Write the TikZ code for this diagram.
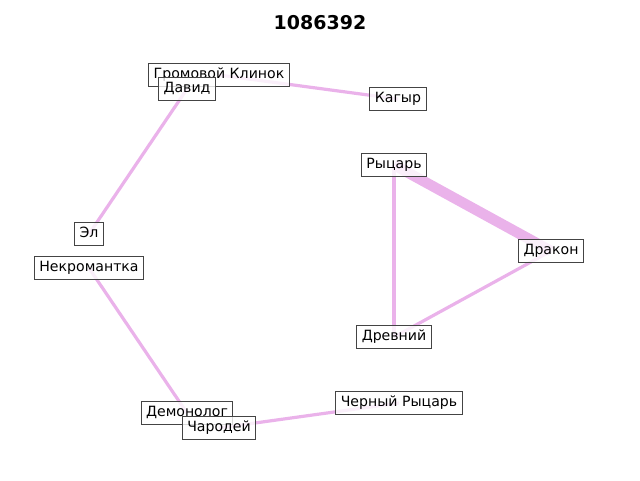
\documentclass[tikz,border=0pt]{standalone}
\usepackage{fontspec}
\setmainfont{DejaVu Sans}
\usetikzlibrary{backgrounds}
\definecolor{edgeviolet}{RGB}{234,178,234}
\definecolor{boxgray}{RGB}{68,68,68}
\tikzset{
	person/.style={draw=boxgray, line width=1.1pt, fill=white, fill opacity=0.8, text opacity=1,
		inner xsep=5pt, inner ysep=4.6pt, text height=10.8pt, text depth=3.3pt,
		font=\fontsize{14.1}{16}\selectfont},
	link/.style={draw=edgeviolet, line width=3.2pt},
	biglink/.style={draw=edgeviolet, line width=10.5pt}
}

\begin{document}
\begin{tikzpicture}[x=1pt, y=-1pt]
		%%%%% START %%%%%
		
		\useasboundingbox (0, 0) rectangle (640, 480);
		
		\node[font=\fontsize{19}{22}\selectfont\bfseries] (title) at (320, 23) {1086392};
		
		\node[person] (klinok) at (219, 75) {Громовой Клинок};
		\node[person] (david) at (187, 89) {Давид};
		\node[person] (kagyr) at (398, 99) {Кагыр};
		\node[person] (rycar) at (394, 165) {Рыцарь};
		\node[person] (el) at (89, 234) {Эл};
		\node[person] (drakon) at (551, 251) {Дракон};
		\node[person] (nekro) at (89, 268) {Некромантка};
		\node[person] (drevnij) at (394, 337) {Древний};
		\node[person] (chernyj) at (399, 403) {Черный Рыцарь};
		\node[person] (demon) at (187, 413) {Демонолог};
		\node[person] (charodej) at (219, 428) {Чародей};
		
		\begin{pgfonlayer}{background}
			\draw[link] (klinok.center) -- (kagyr.center);
			\draw[link] (david.center) -- (el.center);
			\draw[link] (nekro.center) -- (demon.center);
			\draw[link] (charodej.center) -- (chernyj.center);
			\draw[biglink] (rycar.center) -- (drakon.center);
			\draw[link] (rycar.center) -- (drevnij.center);
			\draw[link] (drakon.center) -- (drevnij.center);
		\end{pgfonlayer}
		
		%%%%% END %%%%%
\end{tikzpicture}
\end{document}
